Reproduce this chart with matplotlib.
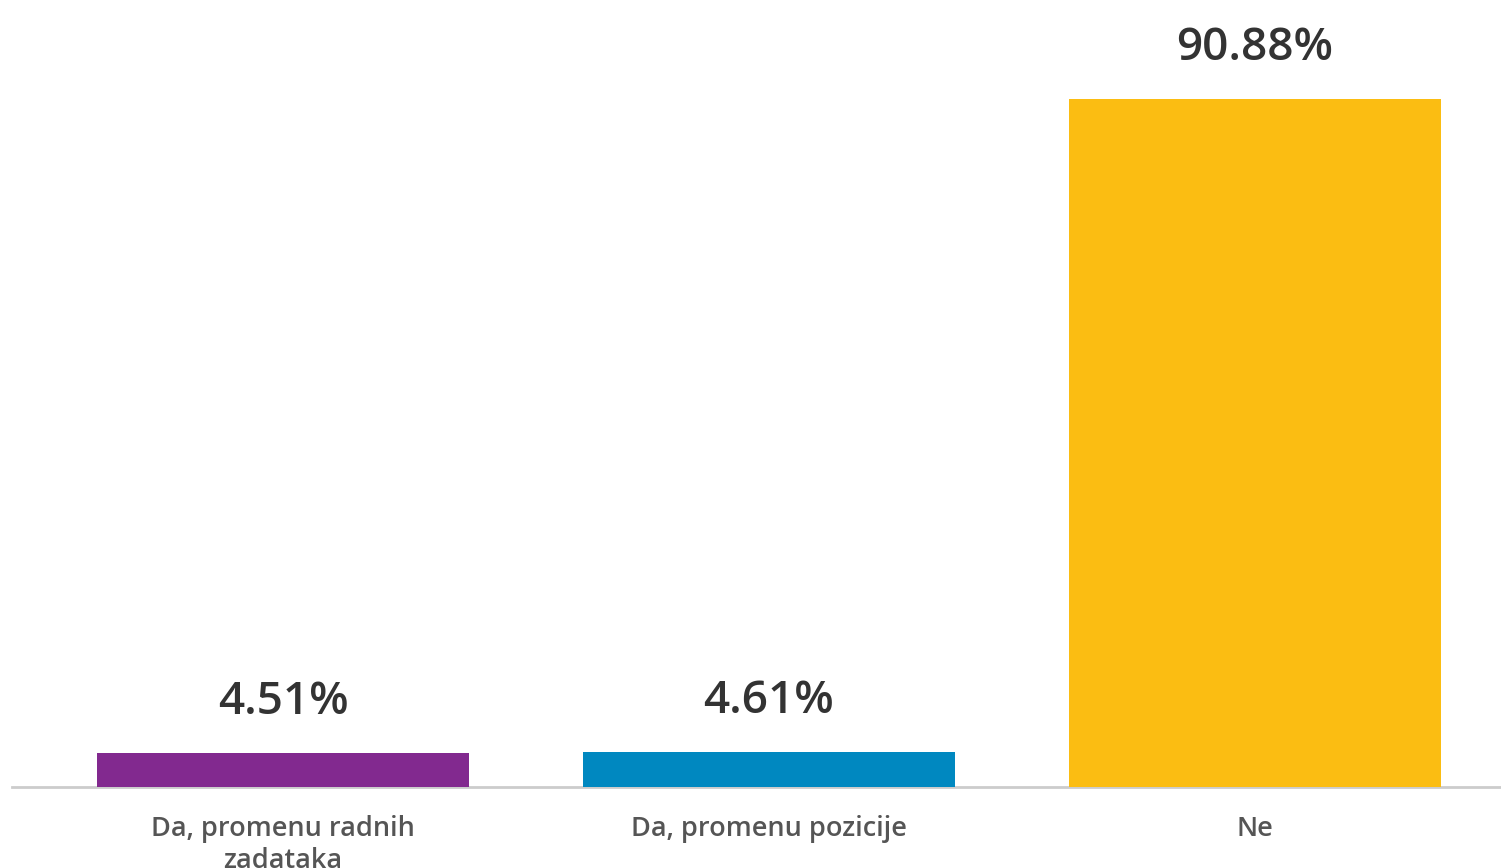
import matplotlib
matplotlib.use("Agg")
import matplotlib.pyplot as plt

# Survey answers and their shares (percent)
categories = ["Da, promenu radnih\nzadataka", "Da, promenu pozicije", "Ne"]
values = [4.51, 4.61, 90.88]
colors = ["#82298F", "#0088C0", "#FBBD12"]

W, H, DPI = 1501, 868, 100
fig = plt.figure(figsize=(W / DPI, H / DPI), dpi=DPI)
fig.patch.set_facecolor("white")

# axes spans from the baseline up to the top edge
left_px, right_px, base_px = 12, 1501, 787
ax = fig.add_axes([left_px / W, (H - base_px) / H, (right_px - left_px) / W, base_px / H])
ax.set_facecolor("none")

step = 486.0
center0 = 283.0
ax.set_xlim(-(center0 - left_px) / step, (right_px - center0) / step)
ymax = max(values) * base_px / 688.0
ax.set_ylim(0, ymax)

x = list(range(len(categories)))
ax.bar(x, values, width=372 / step, color=colors, zorder=3)

for xi, v in zip(x, values):
    ax.annotate(f"{v:.2f}%", xy=(xi, v), xytext=(0, 28), textcoords="offset points",
                ha="center", va="baseline", fontsize=33, fontweight="semibold",
                family="Open Sans", color="#333333", zorder=4, annotation_clip=False)

ax.set_xticks(x)
ax.set_xticklabels(categories, fontsize=19.5, fontweight="semibold", family="Open Sans",
                   color="#555555", linespacing=1.18)
ax.tick_params(axis="x", length=0, pad=20)
ax.set_yticks([])
for side in ["top", "right", "left"]:
    ax.spines[side].set_visible(False)
ax.spines["bottom"].set_color("#cccccc")
ax.spines["bottom"].set_linewidth(2)
ax.spines["bottom"].set_zorder(2)

fig.savefig("out.png", dpi=DPI, facecolor="white")
